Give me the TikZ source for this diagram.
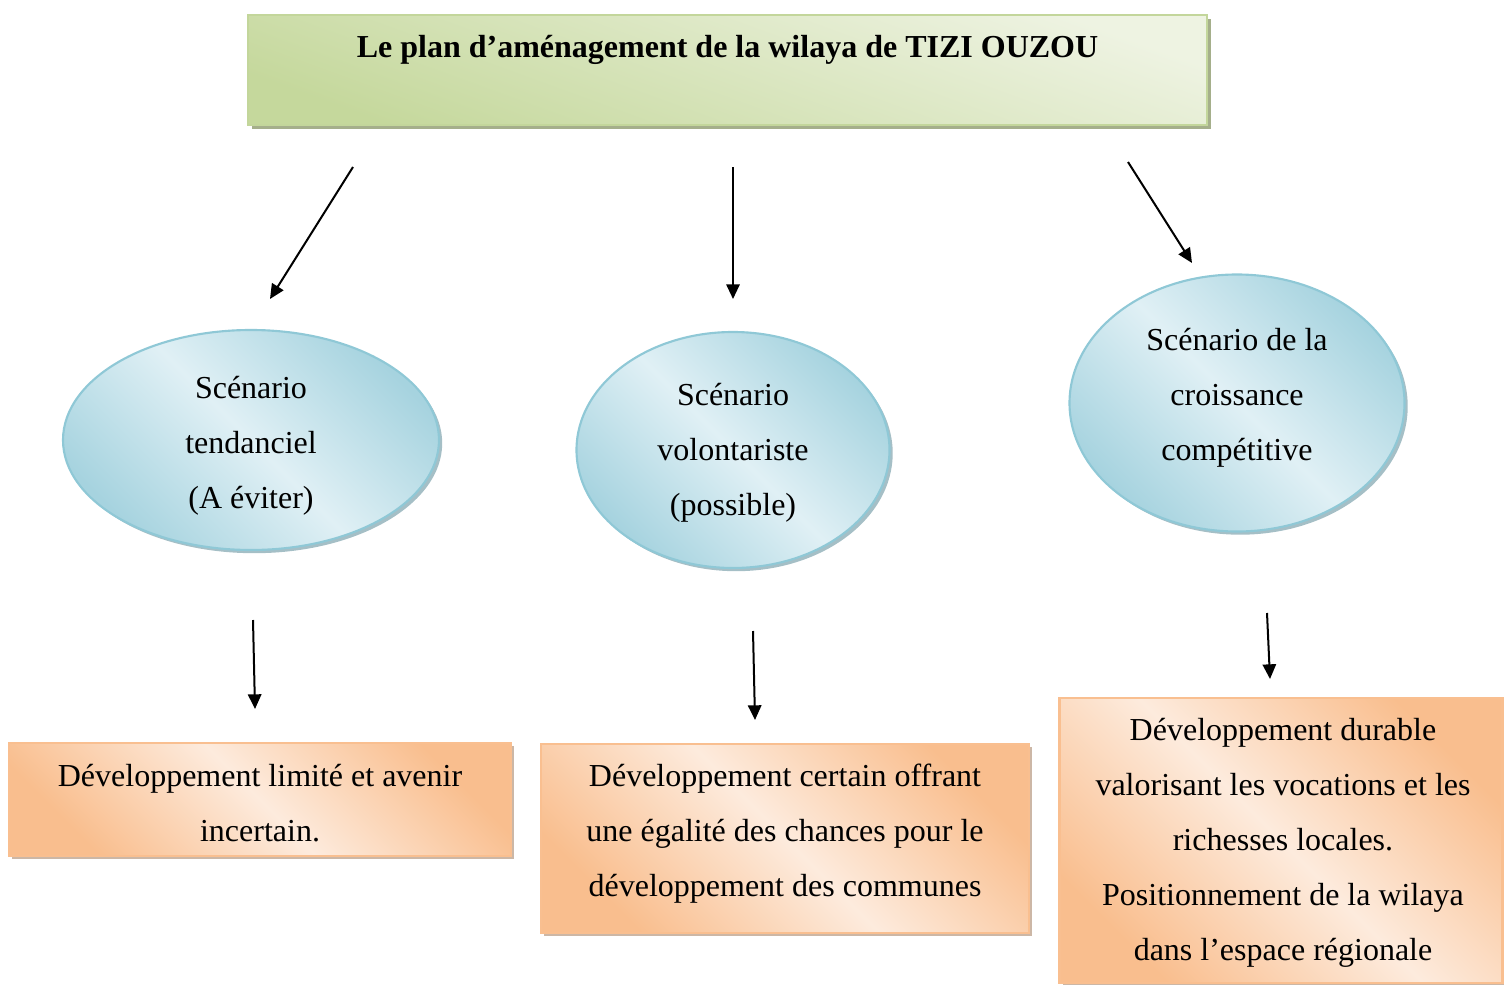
\documentclass[tikz,border=0pt]{standalone}
\usepackage{fontspec}
\setmainfont{Liberation Serif}
\usetikzlibrary{shapes.geometric,shadows,arrows.meta}
\definecolor{grborder}{HTML}{C3D69B}
\definecolor{grlight}{HTML}{EEF3E2}
\definecolor{grdark}{HTML}{C5D89C}
\definecolor{grshadow}{HTML}{A5AF8B}
\definecolor{blborder}{HTML}{8FC8D6}
\definecolor{bllight}{HTML}{E0F0F5}
\definecolor{bldark}{HTML}{A6D3DF}
\definecolor{blshadow}{HTML}{8FAFB8}
\definecolor{orborder}{HTML}{F9BF90}
\definecolor{orlight}{HTML}{FDEBDD}
\definecolor{ordark}{HTML}{F9BE8E}
\definecolor{orshadow}{HTML}{BFA590}
\begin{document}
\begin{tikzpicture}[x=.375pt,y=-.375pt,
	every node/.style={font=\fontsize{12}{20.6}\selectfont,align=center,inner sep=0pt},
	titlebox/.style={rectangle,draw=grborder,line width=1pt,top color=grlight,bottom color=grdark,shading angle=-20,
		drop shadow={shadow xshift=1.5pt,shadow yshift=-1.5pt,fill=grshadow,opacity=1}},
	scenario/.style={ellipse,draw=blborder,line width=.8pt,top color=bldark,bottom color=bldark,middle color=bllight,shading angle=-45,
		drop shadow={shadow xshift=1.2pt,shadow yshift=-1.2pt,fill=blshadow,opacity=.8}},
	result/.style={rectangle,draw=orborder,line width=.8pt,top color=ordark,bottom color=ordark,middle color=orlight,shading angle=-45,
		drop shadow={shadow xshift=1.2pt,shadow yshift=-1.2pt,fill=orshadow,opacity=.8}},
	fleche/.style={line width=.75pt,-{Triangle[length=5.5pt,width=5pt]}}]
	\def\u{.375pt}
	\useasboundingbox (0,0) rectangle (1504,984);
	% titre
	\node[titlebox,minimum width=959*\u,minimum height=110*\u] (plan) at (727.5,70) {};
	\node[font=\fontsize{12}{20.6}\selectfont\bfseries] (plantext) at (727.5,50) {Le plan d’aménagement de la wilaya de TIZI OUZOU};
	% scenarios
	\node[scenario,minimum width=376*\u,minimum height=220*\u] (tend) at (251,440) {};
	\node (tendtext) at (251,445.5) {Scénario\\tendanciel\\(A éviter)};
	\node[scenario,minimum width=313*\u,minimum height=236*\u] (volont) at (733,450) {};
	\node (volonttext) at (733,452.5) {Scénario\\volontariste\\(possible)};
	\node[scenario,minimum width=335*\u,minimum height=257*\u] (compet) at (1237,403) {};
	\node (compettext) at (1237,398) {Scénario de la\\croissance\\compétitive};
	% consequences
	\node[result,minimum width=502*\u,minimum height=113*\u] (limite) at (260,799.5) {};
	\node (limitetext) at (260,803) {Développement limité et avenir\\incertain.};
	\node[result,minimum width=488*\u,minimum height=189*\u] (certain) at (785,838.5) {};
	\node (certaintext) at (785,834) {Développement certain offrant\\une égalité des chances pour le\\développement des communes};
	\node[result,minimum width=443*\u,minimum height=285*\u] (durable) at (1281,840.5) {};
	\node (durabletext) at (1283,843) {Développement durable\\valorisant les vocations et les\\richesses locales.\\Positionnement de la wilaya\\dans l’espace régionale};
	% fleches
	\path (353,167) coordinate (S1) (270,299) coordinate (E1)
	(733,167) coordinate (S2) (733,299) coordinate (E2)
	(1128,162) coordinate (S3) (1192,263) coordinate (E3)
	(253,620) coordinate (S4) (255,709) coordinate (E4)
	(753,631) coordinate (S5) (755,720) coordinate (E5)
	(1267,613) coordinate (S6) (1270,679) coordinate (E6);
	\foreach \i in {1,...,6} \draw[fleche] (S\i)--(E\i);
\end{tikzpicture}
\end{document}
